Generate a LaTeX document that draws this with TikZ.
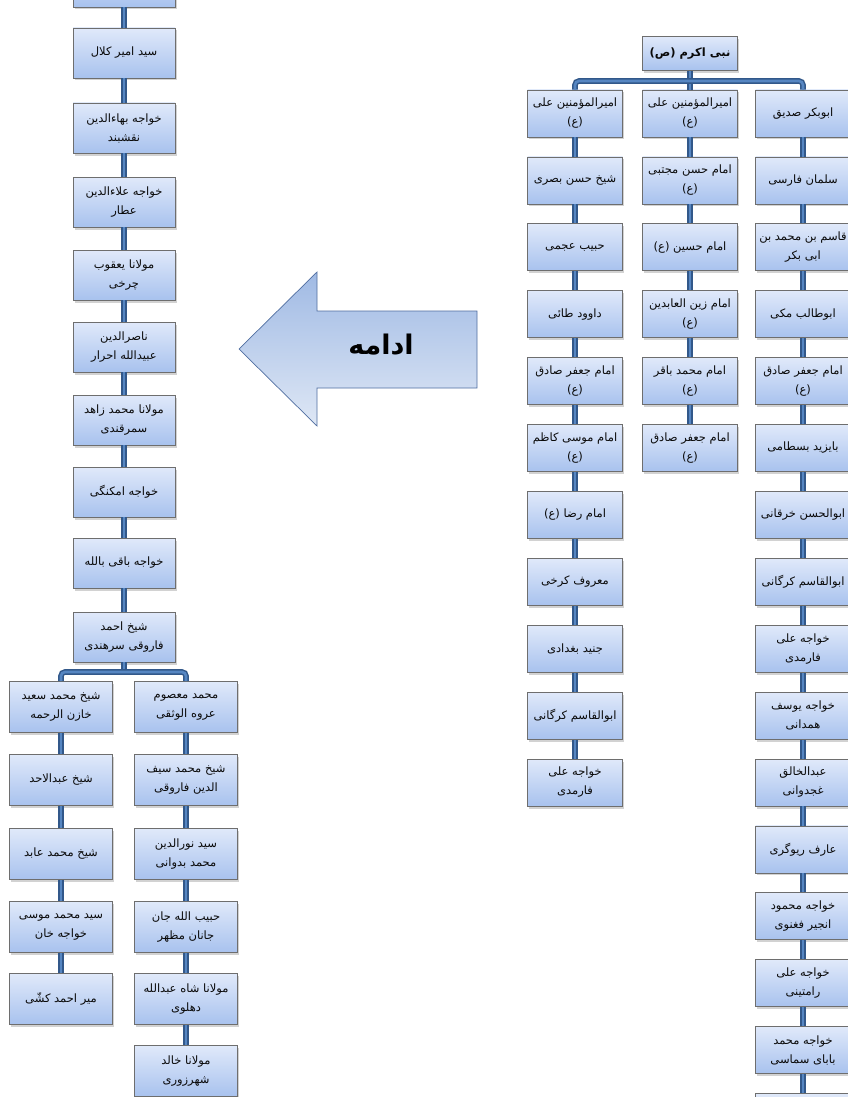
\documentclass[tikz,border=0pt]{standalone}
\usepackage{fontspec}
\usetikzlibrary{shadows}
\TeXXeTstate=1
\newfontfamily\arabicfont[Script=Arabic]{DejaVu Sans}
\newcommand\pr[1]{\beginR #1\endR}
\newcommand\boxfont{\arabicfont\fontsize{11.5}{19}\selectfont}
\definecolor{boxtop}{RGB}{224,233,250}
\definecolor{boxbot}{RGB}{168,194,238}
\definecolor{boxline}{RGB}{110,110,110}
\definecolor{connout}{RGB}{50,88,138}
\definecolor{connin}{RGB}{86,134,194}
\definecolor{arrtop}{RGB}{160,186,228}
\definecolor{arrbot}{RGB}{222,231,245}
\definecolor{arrline}{RGB}{80,110,160}
\definecolor{txt}{RGB}{10,10,10}
\begin{document}
\begin{tikzpicture}[x=1pt,y=-1pt,
  box/.style={draw=boxline, line width=0.8pt, top color=boxtop, bottom color=boxbot,
    inner sep=1pt, align=center, text=txt, font=\boxfont,
    drop shadow={shadow xshift=1.5pt, shadow yshift=-2.5pt, opacity=0.35}},
  lbox/.style={minimum width=102pt, minimum height=50pt},
  sbox/.style={minimum width=103pt, minimum height=51pt},
  rbox/.style={minimum width=95pt, minimum height=47pt},
  conn/.style={draw=connout, line width=1.5pt, double=connin, double distance=2.6pt},
]
\useasboundingbox (0,0) rectangle (848,1097);
\fill[white] (0,0) rectangle (848,1097);

% ---------- continuation arrow ----------
\path[draw=arrline, line width=0.7pt, top color=arrtop, bottom color=arrbot]
  (239,349) -- (317,272) -- (317,311) -- (477,311) -- (477,388) -- (317,388) -- (317,426) -- cycle;
\node[text=black] (cont) at (381,345) {\arabicfont\bfseries\fontsize{27}{27}\selectfont\pr{ادامه}};

% ---------- left column (continued chain) ----------
\node[box,lbox] (L0) at (124,-18) {};
\foreach \n/\yy/\tx in {
 1/53/{\pr{سید امیر کلال}},
 2/128/{\pr{خواجه بهاءالدین}\\\pr{نقشبند}},
 3/202/{\pr{خواجه علاءالدین}\\\pr{عطار}},
 4/275/{\pr{مولانا یعقوب}\\\pr{چرخی}},
 5/347/{\pr{ناصرالدین}\\\pr{عبیدالله احرار}},
 6/420/{\pr{مولانا محمد زاهد}\\\pr{سمرقندی}},
 7/492/{\pr{خواجه امکنگی}},
 8/563/{\pr{خواجه باقی بالله}},
 9/637/{\pr{شیخ احمد}\\\pr{فاروقی سرهندی}}}
 \node[box,lbox] (L\n) at (124,\yy) {\tx};

\foreach \n/\yy/\tx in {
 1/707/{\pr{شیخ محمد سعید}\\\pr{خازن الرحمه}},
 2/780/{\pr{شیخ عبدالاحد}},
 3/854/{\pr{شیخ محمد عابد}},
 4/927/{\pr{سید محمد موسی}\\\pr{خواجه خان}},
 5/999/{\pr{میر احمد کشّی}}}
 \node[box,sbox] (Sa\n) at (61,\yy) {\tx};

\foreach \n/\yy/\tx in {
 1/707/{\pr{محمد معصوم}\\\pr{عروه الوثقی}},
 2/780/{\pr{شیخ محمد سیف}\\\pr{الدین فاروقی}},
 3/854/{\pr{سید نورالدین}\\\pr{محمد بدوانی}},
 4/927/{\pr{حبیب الله جان}\\\pr{جانان مظهر}},
 5/999/{\pr{مولانا شاه عبدالله}\\\pr{دهلوی}},
 6/1071/{\pr{مولانا خالد}\\\pr{شهرزوری}}}
 \node[box,sbox] (Sb\n) at (186,\yy) {\tx};

\foreach \a/\b in {0/1,1/2,2/3,3/4,4/5,5/6,6/7,7/8,8/9}
 \draw[conn] (L\a.south) -- (L\b.north);
\coordinate (lb) at (124,672);
\draw[conn] (L9.south) -- (lb);
\draw[conn, rounded corners=4pt] (Sa1.north) |- (lb) -| (Sb1.north);
\foreach \a/\b in {1/2,2/3,3/4,4/5}
 \draw[conn] (Sa\a.south) -- (Sa\b.north);
\foreach \a/\b in {1/2,2/3,3/4,4/5,5/6}
 \draw[conn] (Sb\a.south) -- (Sb\b.north);

% ---------- right tree ----------
\node[box, minimum width=95pt, minimum height=34pt] (root) at (690,53.5)
  {\bfseries\pr{نبی اکرم (ص)}};

\foreach \n/\tx in {
 1/{\pr{امیرالمؤمنین علی}\\\pr{(ع)}},
 2/{\pr{شیخ حسن بصری}},
 3/{\pr{حبیب عجمی}},
 4/{\pr{داوود طائی}},
 5/{\pr{امام جعفر صادق}\\\pr{(ع)}},
 6/{\pr{امام موسی کاظم}\\\pr{(ع)}},
 7/{\pr{امام رضا (ع)}},
 8/{\pr{معروف کرخی}},
 9/{\pr{جنید بغدادی}},
 10/{\pr{ابوالقاسم کرگانی}},
 11/{\pr{خواجه علی}\\\pr{فارمدی}}}
 \node[box,rbox] (A\n) at (575,{113.5+66.9*(\n-1)}) {\tx};

\foreach \n/\tx in {
 1/{\pr{امیرالمؤمنین علی}\\\pr{(ع)}},
 2/{\pr{امام حسن مجتبی}\\\pr{(ع)}},
 3/{\pr{امام حسین (ع)}},
 4/{\pr{امام زین العابدین}\\\pr{(ع)}},
 5/{\pr{امام محمد باقر}\\\pr{(ع)}},
 6/{\pr{امام جعفر صادق}\\\pr{(ع)}}}
 \node[box,rbox] (B\n) at (690,{113.5+66.9*(\n-1)}) {\tx};

\foreach \n/\tx in {
 1/{\pr{ابوبکر صدیق}},
 2/{\pr{سلمان فارسی}},
 3/{\pr{قاسم بن محمد بن}\\\pr{ابی بکر}},
 4/{\pr{ابوطالب مکی}},
 5/{\pr{امام جعفر صادق}\\\pr{(ع)}},
 6/{\pr{بایزید بسطامی}},
 7/{\pr{ابوالحسن خرقانی}},
 8/{\pr{ابوالقاسم کرگانی}},
 9/{\pr{خواجه علی}\\\pr{فارمدی}},
 10/{\pr{خواجه یوسف}\\\pr{همدانی}},
 11/{\pr{عبدالخالق}\\\pr{غجدوانی}},
 12/{\pr{عارف ریوگری}},
 13/{\pr{خواجه محمود}\\\pr{انجیر فغنوی}},
 14/{\pr{خواجه علی}\\\pr{رامتینی}},
 15/{\pr{خواجه محمد}\\\pr{بابای سماسی}},
 16/{}}
 \node[box,rbox] (C\n) at (803,{113.5+66.9*(\n-1)}) {\tx};

\coordinate (rb) at (690,81);
\draw[conn] (root.south) -- (B1.north);
\draw[conn, rounded corners=4pt] (A1.north) |- (rb) -| (C1.north);
\foreach \a/\b in {1/2,2/3,3/4,4/5,5/6,6/7,7/8,8/9,9/10,10/11}
 \draw[conn] (A\a.south) -- (A\b.north);
\foreach \a/\b in {1/2,2/3,3/4,4/5,5/6}
 \draw[conn] (B\a.south) -- (B\b.north);
\foreach \a/\b in {1/2,2/3,3/4,4/5,5/6,6/7,7/8,8/9,9/10,10/11,11/12,12/13,13/14,14/15,15/16}
 \draw[conn] (C\a.south) -- (C\b.north);
\end{tikzpicture}
\end{document}
